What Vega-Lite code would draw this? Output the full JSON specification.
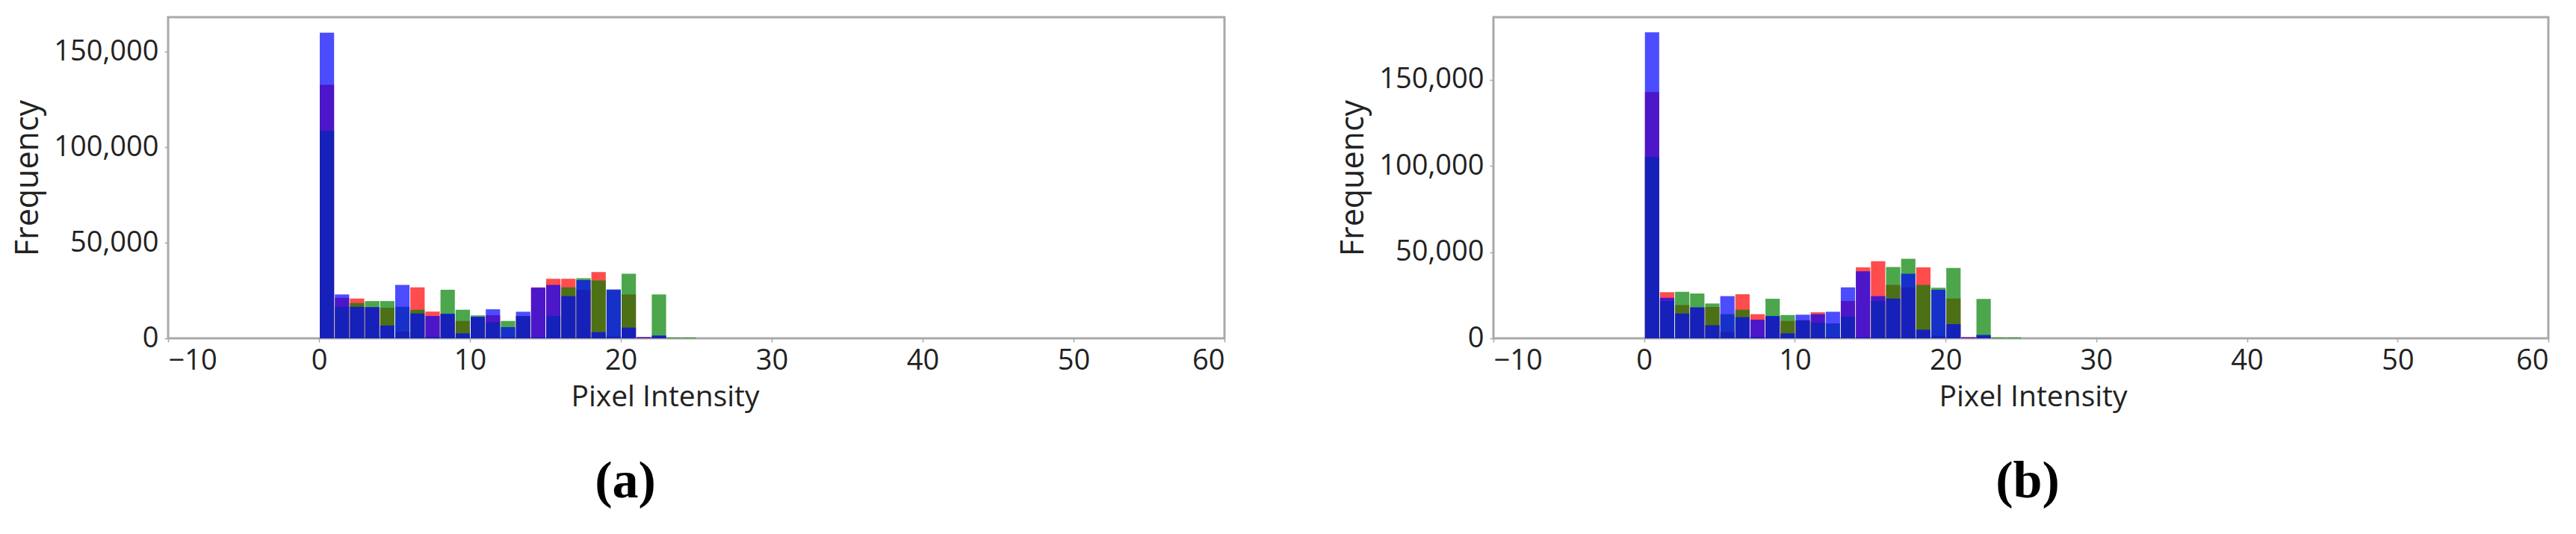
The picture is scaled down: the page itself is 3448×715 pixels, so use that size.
{
  "$schema": "https://vega.github.io/schema/vega-lite/v6.json",
  "background": "white",
  "padding": {"left": 15, "top": 21, "right": 0, "bottom": 0},
  "config": {
    "font": "Open Sans",
    "view": {"stroke": "#a9a9a9", "strokeWidth": 3},
    "axis": {
      "grid": false,
      "domain": false,
      "tickColor": "#a9a9a9",
      "tickWidth": 1.5,
      "tickSize": 5,
      "labelFont": "Open Sans",
      "labelFontSize": 38,
      "labelColor": "#222222",
      "titleFont": "Open Sans",
      "titleFontSize": 39,
      "titleFontWeight": "normal",
      "titleColor": "#222222"
    },
    "axisX": {"labelPadding": 6, "titlePadding": 10},
    "axisY": {"labelPadding": 8, "titlePadding": 12, "titleFontSize": 43}
  },
  "datasets": {
    "a": [
      {"ch": "R", "x0": 0, "x1": 1, "count": 132600},
      {"ch": "R", "x0": 1, "x1": 2, "count": 21200},
      {"ch": "R", "x0": 2, "x1": 3, "count": 20800},
      {"ch": "R", "x0": 3, "x1": 4, "count": 16300},
      {"ch": "R", "x0": 4, "x1": 5, "count": 16000},
      {"ch": "R", "x0": 5, "x1": 6, "count": 3500},
      {"ch": "R", "x0": 6, "x1": 7, "count": 26650},
      {"ch": "R", "x0": 7, "x1": 8, "count": 14000},
      {"ch": "R", "x0": 8, "x1": 9, "count": 12500},
      {"ch": "R", "x0": 9, "x1": 10, "count": 9100},
      {"ch": "R", "x0": 10, "x1": 11, "count": 11000},
      {"ch": "R", "x0": 11, "x1": 12, "count": 12100},
      {"ch": "R", "x0": 12, "x1": 13, "count": 600},
      {"ch": "R", "x0": 13, "x1": 14, "count": 11700},
      {"ch": "R", "x0": 14, "x1": 15, "count": 26700},
      {"ch": "R", "x0": 15, "x1": 16, "count": 31200},
      {"ch": "R", "x0": 16, "x1": 17, "count": 31200},
      {"ch": "R", "x0": 17, "x1": 18, "count": 25350},
      {"ch": "R", "x0": 18, "x1": 19, "count": 34700},
      {"ch": "R", "x0": 19, "x1": 20, "count": 1000},
      {"ch": "R", "x0": 20, "x1": 21, "count": 23000},
      {"ch": "R", "x0": 21, "x1": 22, "count": 600},
      {"ch": "R", "x0": 22, "x1": 23, "count": 1200},
      {"ch": "G", "x0": 0, "x1": 1, "count": 108500},
      {"ch": "G", "x0": 1, "x1": 2, "count": 16500},
      {"ch": "G", "x0": 2, "x1": 3, "count": 18500},
      {"ch": "G", "x0": 3, "x1": 4, "count": 19500},
      {"ch": "G", "x0": 4, "x1": 5, "count": 19500},
      {"ch": "G", "x0": 5, "x1": 6, "count": 16500},
      {"ch": "G", "x0": 6, "x1": 7, "count": 14950},
      {"ch": "G", "x0": 7, "x1": 8, "count": 800},
      {"ch": "G", "x0": 8, "x1": 9, "count": 25350},
      {"ch": "G", "x0": 9, "x1": 10, "count": 14950},
      {"ch": "G", "x0": 10, "x1": 11, "count": 12000},
      {"ch": "G", "x0": 11, "x1": 12, "count": 8450},
      {"ch": "G", "x0": 12, "x1": 13, "count": 9100},
      {"ch": "G", "x0": 13, "x1": 14, "count": 11600},
      {"ch": "G", "x0": 14, "x1": 15, "count": 500},
      {"ch": "G", "x0": 15, "x1": 16, "count": 11700},
      {"ch": "G", "x0": 16, "x1": 17, "count": 26650},
      {"ch": "G", "x0": 17, "x1": 18, "count": 31500},
      {"ch": "G", "x0": 18, "x1": 19, "count": 30300},
      {"ch": "G", "x0": 19, "x1": 20, "count": 25300},
      {"ch": "G", "x0": 20, "x1": 21, "count": 33800},
      {"ch": "G", "x0": 22, "x1": 23, "count": 23000},
      {"ch": "G", "x0": 23, "x1": 24, "count": 400},
      {"ch": "G", "x0": 24, "x1": 25, "count": 400},
      {"ch": "B", "x0": 0, "x1": 1, "count": 159900},
      {"ch": "B", "x0": 1, "x1": 2, "count": 23000},
      {"ch": "B", "x0": 2, "x1": 3, "count": 16500},
      {"ch": "B", "x0": 3, "x1": 4, "count": 16300},
      {"ch": "B", "x0": 4, "x1": 5, "count": 6700},
      {"ch": "B", "x0": 5, "x1": 6, "count": 27950},
      {"ch": "B", "x0": 6, "x1": 7, "count": 13000},
      {"ch": "B", "x0": 7, "x1": 8, "count": 11700},
      {"ch": "B", "x0": 8, "x1": 9, "count": 12900},
      {"ch": "B", "x0": 9, "x1": 10, "count": 2600},
      {"ch": "B", "x0": 10, "x1": 11, "count": 11300},
      {"ch": "B", "x0": 11, "x1": 12, "count": 15200},
      {"ch": "B", "x0": 12, "x1": 13, "count": 5850},
      {"ch": "B", "x0": 13, "x1": 14, "count": 13900},
      {"ch": "B", "x0": 14, "x1": 15, "count": 26500},
      {"ch": "B", "x0": 15, "x1": 16, "count": 27950},
      {"ch": "B", "x0": 16, "x1": 17, "count": 22100},
      {"ch": "B", "x0": 17, "x1": 18, "count": 30500},
      {"ch": "B", "x0": 18, "x1": 19, "count": 3250},
      {"ch": "B", "x0": 19, "x1": 20, "count": 25600},
      {"ch": "B", "x0": 20, "x1": 21, "count": 5600},
      {"ch": "B", "x0": 21, "x1": 22, "count": 600},
      {"ch": "B", "x0": 22, "x1": 23, "count": 1500}
    ],
    "b": [
      {"ch": "R", "x0": 0, "x1": 1, "count": 142750},
      {"ch": "R", "x0": 1, "x1": 2, "count": 26700},
      {"ch": "R", "x0": 2, "x1": 3, "count": 19300},
      {"ch": "R", "x0": 3, "x1": 4, "count": 17800},
      {"ch": "R", "x0": 4, "x1": 5, "count": 18200},
      {"ch": "R", "x0": 5, "x1": 6, "count": 3700},
      {"ch": "R", "x0": 6, "x1": 7, "count": 25500},
      {"ch": "R", "x0": 7, "x1": 8, "count": 14000},
      {"ch": "R", "x0": 8, "x1": 9, "count": 12500},
      {"ch": "R", "x0": 9, "x1": 10, "count": 10100},
      {"ch": "R", "x0": 10, "x1": 11, "count": 10500},
      {"ch": "R", "x0": 11, "x1": 12, "count": 15100},
      {"ch": "R", "x0": 12, "x1": 13, "count": 500},
      {"ch": "R", "x0": 13, "x1": 14, "count": 21600},
      {"ch": "R", "x0": 14, "x1": 15, "count": 41100},
      {"ch": "R", "x0": 15, "x1": 16, "count": 44700},
      {"ch": "R", "x0": 16, "x1": 17, "count": 31000},
      {"ch": "R", "x0": 17, "x1": 18, "count": 29600},
      {"ch": "R", "x0": 18, "x1": 19, "count": 41100},
      {"ch": "R", "x0": 19, "x1": 20, "count": 1500},
      {"ch": "R", "x0": 20, "x1": 21, "count": 23100},
      {"ch": "R", "x0": 21, "x1": 22, "count": 600},
      {"ch": "R", "x0": 22, "x1": 23, "count": 1500},
      {"ch": "G", "x0": 0, "x1": 1, "count": 105250},
      {"ch": "G", "x0": 1, "x1": 2, "count": 21600},
      {"ch": "G", "x0": 2, "x1": 3, "count": 27000},
      {"ch": "G", "x0": 3, "x1": 4, "count": 26000},
      {"ch": "G", "x0": 4, "x1": 5, "count": 20200},
      {"ch": "G", "x0": 5, "x1": 6, "count": 14000},
      {"ch": "G", "x0": 6, "x1": 7, "count": 16600},
      {"ch": "G", "x0": 7, "x1": 8, "count": 800},
      {"ch": "G", "x0": 8, "x1": 9, "count": 23000},
      {"ch": "G", "x0": 9, "x1": 10, "count": 13500},
      {"ch": "G", "x0": 10, "x1": 11, "count": 10400},
      {"ch": "G", "x0": 11, "x1": 12, "count": 9100},
      {"ch": "G", "x0": 12, "x1": 13, "count": 8650},
      {"ch": "G", "x0": 13, "x1": 14, "count": 12500},
      {"ch": "G", "x0": 14, "x1": 15, "count": 500},
      {"ch": "G", "x0": 15, "x1": 16, "count": 21600},
      {"ch": "G", "x0": 16, "x1": 17, "count": 41400},
      {"ch": "G", "x0": 17, "x1": 18, "count": 46100},
      {"ch": "G", "x0": 18, "x1": 19, "count": 31000},
      {"ch": "G", "x0": 19, "x1": 20, "count": 29300},
      {"ch": "G", "x0": 20, "x1": 21, "count": 40800},
      {"ch": "G", "x0": 22, "x1": 23, "count": 22800},
      {"ch": "G", "x0": 23, "x1": 24, "count": 500},
      {"ch": "G", "x0": 24, "x1": 25, "count": 500},
      {"ch": "B", "x0": 0, "x1": 1, "count": 177400},
      {"ch": "B", "x0": 1, "x1": 2, "count": 23500},
      {"ch": "B", "x0": 2, "x1": 3, "count": 14400},
      {"ch": "B", "x0": 3, "x1": 4, "count": 18000},
      {"ch": "B", "x0": 4, "x1": 5, "count": 7600},
      {"ch": "B", "x0": 5, "x1": 6, "count": 24500},
      {"ch": "B", "x0": 6, "x1": 7, "count": 12300},
      {"ch": "B", "x0": 7, "x1": 8, "count": 10800},
      {"ch": "B", "x0": 8, "x1": 9, "count": 13000},
      {"ch": "B", "x0": 9, "x1": 10, "count": 2900},
      {"ch": "B", "x0": 10, "x1": 11, "count": 13700},
      {"ch": "B", "x0": 11, "x1": 12, "count": 14000},
      {"ch": "B", "x0": 12, "x1": 13, "count": 15400},
      {"ch": "B", "x0": 13, "x1": 14, "count": 29600},
      {"ch": "B", "x0": 14, "x1": 15, "count": 38900},
      {"ch": "B", "x0": 15, "x1": 16, "count": 24500},
      {"ch": "B", "x0": 16, "x1": 17, "count": 23100},
      {"ch": "B", "x0": 17, "x1": 18, "count": 37500},
      {"ch": "B", "x0": 18, "x1": 19, "count": 5000},
      {"ch": "B", "x0": 19, "x1": 20, "count": 28100},
      {"ch": "B", "x0": 20, "x1": 21, "count": 8200},
      {"ch": "B", "x0": 21, "x1": 22, "count": 600},
      {"ch": "B", "x0": 22, "x1": 23, "count": 2000}
    ]
  },
  "bounds": "flush",
  "spacing": 360,
  "hconcat": [
    {
      "width": 1414,
      "height": 430,
      "data": {"name": "a"},
      "title": {"text": "(a)", "orient": "bottom", "font": "Liberation Serif", "fontSize": 70, "fontWeight": "bold", "color": "black", "offset": 60, "dx": -95},
      "mark": {"type": "bar", "opacity": 0.7},
      "encoding": {
        "x": {"field": "x0", "type": "quantitative", "bin": {"binned": true, "step": 1}, "scale": {"domain": [-10, 60], "nice": false, "zero": false}, "axis": {"values": [-10, 0, 10, 20, 30, 40, 50, 60], "title": "Pixel Intensity", "titleX": 665}},
        "x2": {"field": "x1"},
        "y": {"field": "count", "type": "quantitative", "stack": null, "scale": {"domain": [0, 168000], "nice": false}, "axis": {"values": [0, 50000, 100000, 150000], "format": ",d", "title": "Frequency"}},
        "color": {"field": "ch", "type": "nominal", "scale": {"domain": ["R", "G", "B"], "range": ["#ff0000", "#008000", "#0000ff"]}, "legend": null}
      }
    },
    {
      "width": 1412,
      "height": 430,
      "data": {"name": "b"},
      "title": {"text": "(b)", "orient": "bottom", "font": "Liberation Serif", "fontSize": 70, "fontWeight": "bold", "color": "black", "offset": 60, "dx": 9},
      "mark": {"type": "bar", "opacity": 0.7},
      "encoding": {
        "x": {"field": "x0", "type": "quantitative", "bin": {"binned": true, "step": 1}, "scale": {"domain": [-10, 60], "nice": false, "zero": false}, "axis": {"values": [-10, 0, 10, 20, 30, 40, 50, 60], "title": "Pixel Intensity", "titleX": 722}},
        "x2": {"field": "x1"},
        "y": {"field": "count", "type": "quantitative", "stack": null, "scale": {"domain": [0, 186200], "nice": false}, "axis": {"values": [0, 50000, 100000, 150000], "format": ",d", "title": "Frequency"}},
        "color": {"field": "ch", "type": "nominal", "scale": {"domain": ["R", "G", "B"], "range": ["#ff0000", "#008000", "#0000ff"]}, "legend": null}
      }
    }
  ]
}
